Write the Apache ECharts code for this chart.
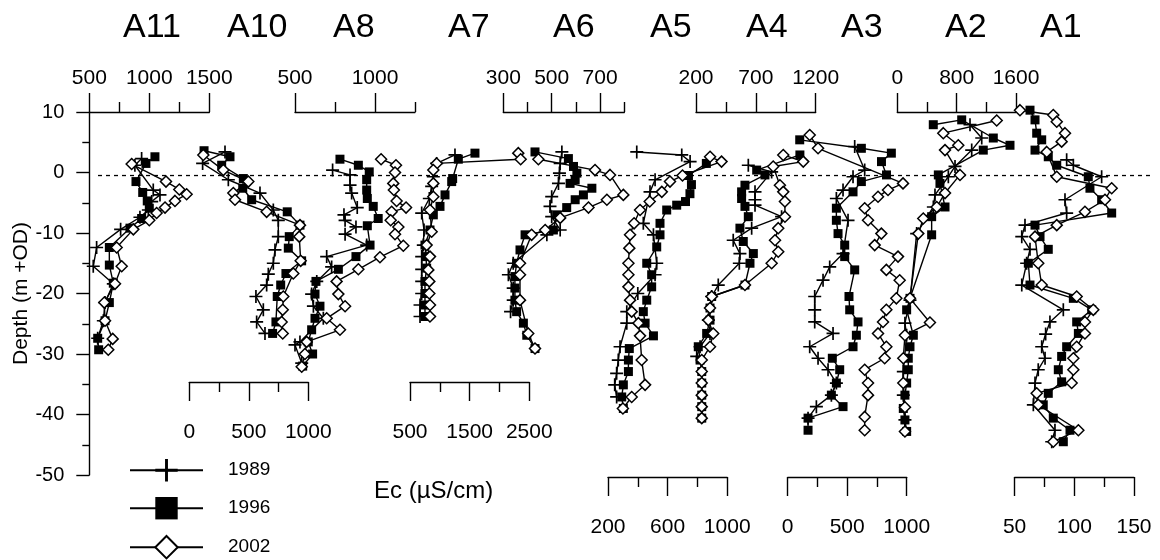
<!DOCTYPE html>
<html><head><meta charset="utf-8">
<script src="https://cdn.jsdelivr.net/npm/echarts@6/dist/echarts.min.js"></script>
<style>html,body{margin:0;padding:0;background:#fff}#c{width:1160px;height:560px}</style>
</head><body><div id="c"></div>
<script>
// ---------------- DATA ----------------
const YEARS = ['1989', '1996', '2002'];
const PANELS = ['A11', 'A10', 'A8', 'A7', 'A6', 'A5', 'A4', 'A3', 'A2', 'A1'];
const DEPTH_MIN = -50, DEPTH_MAX = 10, DEPTH_STEP = 10;
const REF_DEPTH = -0.5;
const Y_NAME = 'Depth (m +OD)';
const X_NAME = 'Ec (µS/cm)';

// axis ranges and tick labels for every profile
const AXIS_MIN = {A11: 500, A10: 0, A8: 500, A7: 500, A6: 300, A5: 200, A4: 200, A3: 0, A2: 0, A1: 50};
const AXIS_MAX = {A11: 1500, A10: 1000, A8: 1250, A7: 2500, A6: 800, A5: 1000, A4: 1200, A3: 1000, A2: 1600, A1: 150};
const MAJOR_TICKS = {
  A11: [500, 1000, 1500], A10: [0, 500, 1000], A8: [500, 1000], A7: [500, 1500, 2500],
  A6: [300, 500, 700], A5: [200, 600, 1000], A4: [200, 700, 1200], A3: [0, 500, 1000],
  A2: [0, 800, 1600], A1: [50, 100, 150]
};
const MINOR_TICKS = {
  A11: [750, 1250], A10: [250, 750], A8: [750, 1250], A7: [1000, 2000],
  A6: [400, 600, 800], A5: [400, 800], A4: [450, 950], A3: [250, 750],
  A2: [400, 1200], A1: [75, 125]
};

// [Ec, depth] pairs
const A11_1989 = [[936,2.3],[880,1.2],[1033,-2.9],[1089,-3.7],[1020,-4.8],[992,-6.2],[922,-7.4],[761,-9.4],[561,-12.4],[533,-15.5],[700,-18.4],[631,-21.5],[617,-24.5],[570,-27.4]];
const A11_1996 = [[1047,2.6],[972,1.5],[889,-1.5],[945,-3.3],[983,-4.7],[1000,-5.9],[936,-7.6],[839,-9.2],[667,-12.4],[667,-15.3],[700,-18.3],[667,-21.5],[631,-24.5],[570,-27.4],[578,-29.3]];
const A11_2002 = [[853,1.4],[1139,-1.5],[1250,-2.8],[1311,-3.6],[1214,-4.7],[1131,-5.8],[1061,-6.7],[1000,-7.9],[867,-9.4],[728,-12.4],[770,-15.5],[714,-18.4],[625,-21.5],[631,-24.5],[695,-27.5],[658,-29.3]];

const A10_1989 = [[300,3.4],[112,1.5],[328,-1.2],[594,-3.4],[706,-6.2],[748,-7.9],[748,-10.6],[720,-12.8],[706,-15.0],[664,-16.8],[650,-18.6],[560,-20.5],[622,-22.7],[566,-24.7],[636,-26.6]];
const A10_1996 = [[124,3.6],[342,2.6],[272,1.2],[454,-1.0],[449,-2.6],[524,-4.5],[823,-6.5],[930,-8.7],[840,-10.6],[832,-12.5],[944,-14.6],[812,-16.7],[768,-18.6],[739,-20.5],[728,-24.7],[700,-26.6]];
const A10_2002 = [[118,2.9],[286,0.4],[496,-1.5],[370,-3.4],[384,-4.5],[650,-6.5],[930,-8.7],[924,-10.6],[936,-14.6],[874,-16.7],[790,-20.5],[785,-22.7],[776,-24.7],[785,-26.6]];

const A8_1989 = [[735,0.4],[844,-0.4],[844,-2.1],[854,-3.4],[889,-5.8],[806,-7.0],[813,-7.9],[881,-9.0],[813,-10.2],[948,-12.0],[698,-13.9],[729,-15.6],[636,-18.0],[604,-20.1],[615,-22.1],[677,-24.1],[531,-28.0],[500,-28.5],[542,-31.5]];
const A8_1996 = [[781,2.2],[896,1.2],[964,0.1],[948,-1.2],[948,-2.9],[952,-4.3],[989,-5.6],[1020,-7.6],[952,-8.8],[969,-12.0],[881,-13.9],[771,-16.0],[631,-18.0],[625,-20.1],[656,-22.1],[625,-24.1],[604,-26.0],[583,-28.0],[610,-30.0],[548,-32.0]];
const A8_2002 = [[1038,2.2],[1131,1.2],[1125,0],[1114,-1.8],[1118,-2.9],[1135,-4.7],[1194,-5.8],[1104,-6.5],[1098,-7.9],[1146,-9.0],[1125,-10.2],[1177,-12.1],[1031,-14.0],[896,-16.0],[760,-18.0],[771,-20.1],[813,-22.1],[698,-24.1],[781,-26.0],[573,-28.0],[562,-30.0],[542,-32.1]];

const A7_1989 = [[1254,2.9],[947,1.5],[891,-0.7],[863,-2.3],[824,-4.3],[696,-6.7],[735,-9.5],[723,-12.0],[696,-13.9],[696,-16.0],[696,-18.0],[696,-20.0],[668,-21.9],[668,-23.8]];
const A7_1996 = [[1589,3.2],[1310,2.2],[1215,-1.0],[1199,-1.5],[1087,-3.7],[1003,-5.6],[891,-7.0],[835,-9.5],[751,-12.0],[768,-13.9],[779,-15.8],[751,-18.0],[751,-20.0],[751,-21.9],[751,-23.8]];
const A7_2002 = [[2315,3.2],[2355,2.2],[947,1.5],[891,0.4],[891,-1.8],[891,-4.0],[835,-6.2],[863,-9.8],[779,-12.0],[835,-13.9],[807,-16.1],[824,-18.0],[824,-20.0],[835,-21.9],[835,-23.8]];

const A6_1989 = [[542,3.4],[535,1.5],[532,-0.1],[528,-1.8],[500,-4.0],[493,-5.6],[500,-7.3],[535,-9.5],[480,-10.3],[341,-15.0],[321,-16.9],[341,-19.1],[341,-21.1],[330,-23.0]];
const A6_1996 = [[431,3.4],[569,2.3],[590,1.0],[604,-0.1],[597,-1.2],[576,-1.8],[666,-2.6],[631,-3.7],[597,-4.5],[562,-5.8],[521,-7.0],[507,-9.5],[390,-10.3],[369,-12.8],[355,-15.0],[348,-17.2],[348,-19.1],[348,-21.1],[355,-23.0],[383,-24.9],[397,-26.9],[431,-29.1]];
const A6_2002 = [[445,2.2],[679,0.4],[741,-0.4],[796,-3.7],[728,-4.5],[652,-5.8],[535,-7.5],[473,-9.5],[417,-10.3],[369,-15.0],[369,-16.9],[369,-21.1],[403,-26.6],[431,-29.1]];

const A5_1989 = [[393,3.4],[695,2.9],[751,1.8],[516,-1.2],[482,-3.2],[437,-8.4],[505,-10.3],[527,-15.0],[516,-16.9],[400,-20.0],[326,-23.0],[326,-24.9],[281,-28.8],[269,-31.0],[258,-33.2],[245,-35.1],[258,-37.1]];
const A5_1996 = [[860,1.5],[740,-0.5],[760,-2.0],[750,-3.5],[720,-4.8],[661,-5.4],[594,-6.2],[549,-8.4],[549,-10.3],[527,-12.3],[460,-15.0],[493,-16.9],[493,-18.9],[460,-21.1],[437,-23.0],[449,-24.9],[505,-27.0],[343,-29.1],[337,-31.0],[337,-32.9],[303,-35.1],[292,-37.1],[303,-39.0]];
const A5_2002 = [[885,2.6],[962,1.8],[700,-0.5],[616,-1.5],[561,-3.2],[480,-4.8],[415,-6.2],[375,-8.4],[348,-10.3],[343,-12.5],[337,-15.0],[337,-16.9],[337,-18.9],[348,-21.1],[359,-23.0],[404,-24.9],[415,-27.0],[426,-31.0],[449,-35.1],[359,-37.1],[300,-39.0]];

const A4_1989 = [[637,1.2],[832,0.1],[693,-3.2],[693,-4.5],[693,-5.4],[915,-7.3],[665,-9.2],[511,-11.2],[567,-13.4],[562,-15.0],[386,-18.6],[331,-20.5],[303,-24.4],[317,-26.6],[234,-28.8],[206,-30.4]];
const A4_1996 = [[1068,2.9],[707,0.4],[776,-0.4],[609,-2.1],[581,-3.2],[581,-4.3],[609,-5.6],[637,-7.3],[567,-9.2],[595,-11.4],[679,-13.4],[651,-15.0],[609,-18.6],[331,-20.5],[317,-22.4],[317,-24.4],[289,-26.6],[219,-28.8],[234,-31.0],[248,-32.9],[248,-34.8],[248,-36.8],[248,-38.7],[248,-40.6]];
const A4_2002 = [[929,2.9],[1096,1.8],[845,1.0],[901,-2.1],[929,-3.2],[943,-4.8],[943,-7.3],[887,-9.2],[860,-11.2],[887,-13.1],[832,-15.0],[609,-18.6],[331,-20.5],[317,-22.4],[303,-24.4],[344,-26.6],[317,-28.8],[248,-31.0],[248,-32.9],[248,-34.8],[248,-36.8],[248,-38.7],[248,-40.6]];

const A3_1989 = [[563,4.3],[647,0.4],[549,-0.7],[465,-2.9],[409,-4.3],[507,-7.9],[465,-13.4],[353,-15.6],[297,-17.8],[227,-20.5],[227,-22.7],[227,-24.7],[381,-26.6],[185,-28.8],[255,-30.7],[339,-32.6],[409,-34.8],[367,-36.8],[241,-38.7],[171,-40.6]];
const A3_1996 = [[101,5.4],[619,4.0],[871,3.2],[788,1.8],[830,-0.4],[619,-1.5],[549,-3.2],[409,-5.9],[409,-7.9],[423,-10.1],[479,-12.0],[479,-13.9],[563,-16.1],[515,-20.5],[521,-22.7],[591,-24.7],[577,-26.9],[549,-28.8],[375,-30.7],[437,-32.6],[409,-34.8],[367,-36.8],[465,-38.7],[171,-40.6],[171,-42.6]];
const A3_2002 = [[185,6.2],[255,4.0],[969,-1.8],[843,-2.9],[759,-4.0],[647,-5.9],[675,-7.9],[787,-10.1],[731,-12.0],[927,-13.9],[829,-16.1],[941,-17.8],[913,-20.8],[829,-22.7],[801,-24.7],[759,-26.6],[829,-28.8],[815,-30.7],[647,-32.6],[675,-34.8],[675,-36.8],[647,-40.4],[647,-42.6]];

const A2_1989 = [[980,7.9],[1138,5.7],[1003,3.7],[778,1.0],[688,-0.7],[508,-3.7],[486,-5.7],[261,-10.1],[171,-21.1],[103,-24.9],[126,-26.9],[81,-32.9],[81,-36.8],[103,-40.9]];
const A2_1996 = [[485,7.9],[868,8.7],[1294,5.7],[1519,4.5],[1159,3.7],[553,-0.4],[575,-1.8],[643,-5.7],[463,-7.3],[463,-10.3],[171,-20.8],[126,-22.7],[216,-26.9],[171,-28.8],[148,-30.7],[148,-32.6],[126,-34.8],[103,-36.8],[81,-39.0],[103,-40.9],[126,-42.8]];
const A2_2002 = [[1340,8.6],[620,6.5],[822,4.5],[643,3.7],[845,-0.4],[643,-3.4],[531,-5.7],[350,-7.6],[283,-10.1],[171,-20.8],[440,-24.8],[103,-26.9],[81,-30.7],[81,-34.8],[103,-38.8],[103,-42.8]];

const A1_1989 = [[93.6,2.1],[99.2,1.2],[122.9,-0.7],[92.2,-4.5],[93.6,-6.7],[58.7,-8.7],[56.0,-10.6],[62.9,-12.7],[60.1,-15.0],[56.0,-18.6],[90.8,-22.7],[79.6,-24.7],[76.0,-26.7],[72.7,-28.8],[75.5,-30.7],[69.8,-32.6],[67.1,-34.8],[65.7,-38.4],[83.8,-42.6],[81.1,-44.5]];
const A1_1996 = [[62.9,10.3],[67.1,8.7],[68.5,6.5],[72.7,5.4],[67.1,3.7],[78.2,2.6],[85.3,1.2],[111.7,-0.7],[113.1,-2.6],[122.9,-4.5],[131.3,-6.7],[67.1,-8.7],[71.3,-10.6],[78.2,-12.7],[61.5,-15.0],[62.9,-18.6],[99.2,-20.8],[114.6,-22.7],[102.0,-24.7],[103.4,-26.6],[93.6,-28.8],[89.4,-30.4],[86.6,-32.6],[89.4,-34.6],[78.2,-36.5],[74.0,-38.4],[82.4,-40.6],[96.4,-42.6],[90.8,-44.5]];
const A1_2002 = [[54.5,10.3],[82.4,9.5],[85.3,8.4],[92.2,6.5],[89.4,5.1],[76.9,3.4],[85.3,-0.7],[131.3,-2.6],[125.7,-4.5],[108.9,-6.5],[85.3,-8.7],[67.1,-10.6],[69.8,-15.0],[72.7,-18.6],[102.0,-20.5],[115.9,-22.7],[108.9,-24.7],[108.9,-26.6],[102.0,-28.8],[99.2,-30.7],[99.2,-32.6],[97.8,-34.8],[68.5,-36.5],[69.8,-38.4],[103.4,-42.6],[82.4,-44.5]];

// profile number annotations: [Ec, depth, text]
const NOTES = {
  A11: [[1014,-3.4,'1'],[1322,-7.2,'2']],
  A10: [],
  A8: [[1047,-4.0,'2']],
  A7: [[2143,-2.4,'3'],[2143,-4.9,'3']],
  A6: [[786,-2.4,'2'],[711,-11.2,'1']],
  A5: [[839,-4.2,'2'],[570,-24.4,'2']],
  A4: [[1058,-4.5,'2'],[1033,-15.1,'2'],[717,-18.9,'1'],[417,-29.5,'1']],
  A3: [[655,-19.9,'2'],[681,-30.3,'1']],
  A2: [[1408,1.6,'3'],[709,-10.8,'3'],[466,-31.5,'3']],
  A1: [[105.6,6.7,'2'],[140,0.25,'1'],[144.2,-5.7,'2'],[105.6,-13.8,'3'],[91.4,-26.4,'2'],[112.3,-37.9,'3'],[112.3,-41.7,'3'],[112.3,-45.0,'3']]
};

const SERIES_DATA = {
  A11: [A11_1989, A11_1996, A11_2002], A10: [A10_1989, A10_1996, A10_2002],
  A8: [A8_1989, A8_1996, A8_2002], A7: [A7_1989, A7_1996, A7_2002],
  A6: [A6_1989, A6_1996, A6_2002], A5: [A5_1989, A5_1996, A5_2002],
  A4: [A4_1989, A4_1996, A4_2002], A3: [A3_1989, A3_1996, A3_2002],
  A2: [A2_1989, A2_1996, A2_2002], A1: [A1_1989, A1_1996, A1_2002]
};

// ---------------- LAYOUT / STYLE ----------------
const FONT = "'Liberation Sans', Arial, sans-serif";
const GRID_TOP = 112, GRID_H = 363;
const LAYOUT = {
  A11: {left: 89.3, width: 120, pos: 'top', offset: 0, tx: 155},
  A10: {left: 189.3, width: 119, pos: 'bottom', offset: -93, tx: 259},
  A8: {left: 295, width: 120, pos: 'top', offset: 0, tx: 365},
  A7: {left: 410, width: 119.3, pos: 'bottom', offset: -93, tx: 480},
  A6: {left: 503.3, width: 121, pos: 'top', offset: 0, tx: 585},
  A5: {left: 608, width: 119.2, pos: 'bottom', offset: 2, tx: 682},
  A4: {left: 696, width: 119.7, pos: 'top', offset: 0, tx: 778},
  A3: {left: 787.7, width: 119, pos: 'bottom', offset: 2, tx: 873},
  A2: {left: 897.3, width: 118.7, pos: 'top', offset: 0, tx: 977},
  A1: {left: 1014.6, width: 119.4, pos: 'bottom', offset: 2, tx: 1072}
};
const LEGEND_TOPS = [459, 497, 535];
const CROSS = 'path://M-1,-0.13L-0.13,-0.13L-0.13,-1L0.13,-1L0.13,-0.13L1,-0.13L1,0.13L0.13,0.13L0.13,1L-0.13,1L-0.13,0.13L-1,0.13Z';
const SYM = [
  {symbol: CROSS, symbolSize: 13, itemStyle: {color: '#000'}},
  {symbol: 'rect', symbolSize: 9, itemStyle: {color: '#000'}},
  {symbol: 'diamond', symbolSize: 11, itemStyle: {color: '#fff', borderColor: '#000', borderWidth: 1.5}}
];
const fmt = v => String(v);

const grids = [], xAxes = [], yAxes = [], series = [], graphics = [];
PANELS.forEach((p, i) => {
  const L = LAYOUT[p];
  grids.push({left: L.left, width: L.width, top: GRID_TOP, height: GRID_H, containLabel: false, outerBoundsMode: 'none'});
  const common = {gridIndex: i, type: 'value', min: AXIS_MIN[p], max: AXIS_MAX[p], position: L.pos, offset: L.offset, splitLine: {show: false}};
  xAxes.push(Object.assign({}, common, {
    axisLine: {show: true, onZero: false, lineStyle: {color: '#000', width: 1.4}},
    axisTick: {show: true, customValues: MAJOR_TICKS[p], length: 19, lineStyle: {color: '#000', width: 1.4}},
    axisLabel: {show: true, customValues: MAJOR_TICKS[p], formatter: fmt, margin: L.pos === 'top' ? 23 : 40, fontSize: 21, color: '#000', fontFamily: FONT}
  }));
  xAxes.push(Object.assign({}, common, {
    axisLine: {show: false, onZero: false},
    axisTick: {show: true, customValues: MINOR_TICKS[p], length: 10, lineStyle: {color: '#000', width: 1.4}},
    axisLabel: {show: false}
  }));
  if (i === 0) {
    yAxes.push({
      gridIndex: 0, type: 'value', min: DEPTH_MIN, max: DEPTH_MAX, interval: DEPTH_STEP, position: 'left',
      axisLine: {show: true, onZero: false, lineStyle: {color: '#000', width: 1.4}},
      axisTick: {show: true, length: 13, lineStyle: {color: '#000', width: 1.4}},
      minorTick: {show: true, splitNumber: 2, length: 7, lineStyle: {color: '#000', width: 1.4}},
      axisLabel: {fontSize: 20, margin: 25, color: '#000', fontFamily: FONT, formatter: fmt},
      splitLine: {show: false},
      name: Y_NAME, nameLocation: 'middle', nameRotate: 90, nameGap: 58,
      nameTextStyle: {fontSize: 21, color: '#000', fontFamily: FONT}
    });
  } else {
    yAxes.push({gridIndex: i, type: 'value', min: DEPTH_MIN, max: DEPTH_MAX, show: false});
  }
  SERIES_DATA[p].forEach((d, k) => {
    series.push(Object.assign({
      type: 'line', name: YEARS[k], xAxisIndex: 2 * i, yAxisIndex: i, data: d,
      showAllSymbol: true, clip: false, animation: false, silent: true,
      lineStyle: {color: '#000', width: 1.4}, z: 3 + k
    }, SYM[k]));
  });
  if (NOTES[p].length) {
    series.push({
      type: 'scatter', name: 'note' + p, xAxisIndex: 2 * i, yAxisIndex: i, data: NOTES[p],
      symbolSize: 1, itemStyle: {opacity: 0}, clip: false, animation: false, silent: true, z: 10,
      label: {show: true, position: 'inside', formatter: q => q.value[2], fontSize: 18, color: '#222', fontFamily: FONT}
    });
  }
  graphics.push({type: 'text', left: L.tx - 32, top: 11, style: {text: p, fill: '#000', font: '34px ' + FONT, width: 64, align: 'center'}});
});

// reference (dotted) level across all profiles
grids.push({left: 98, width: 1055, top: GRID_TOP, height: GRID_H, containLabel: false, outerBoundsMode: 'none'});
xAxes.push({gridIndex: 10, type: 'value', min: 0, max: 1, show: false});
yAxes.push({gridIndex: 10, type: 'value', min: DEPTH_MIN, max: DEPTH_MAX, show: false});
series.push({type: 'line', name: 'ref', xAxisIndex: 20, yAxisIndex: 10, data: [[0, REF_DEPTH], [1, REF_DEPTH]],
  symbol: 'none', silent: true, animation: false, z: 1, lineStyle: {color: '#000', width: 1.3, type: [4, 4]}});

graphics.push({type: 'text', left: 374, top: 479, style: {text: X_NAME, font: '24px ' + FONT, fill: '#000'}});

const legends = YEARS.map((y, k) => ({
  data: [y], orient: 'vertical', left: 129, top: LEGEND_TOPS[k], padding: 0,
  itemWidth: 73, itemHeight: 28, selectedMode: false,
  textStyle: {fontSize: 19, color: '#000', fontFamily: FONT, padding: [0, 0, 0, 20]}
}));

const chart = echarts.init(document.getElementById('c'), null, {renderer: 'canvas'});
chart.setOption({
  backgroundColor: '#fff',
  animation: false,
  textStyle: {fontFamily: FONT},
  grid: grids, xAxis: xAxes, yAxis: yAxes, series: series,
  legend: legends,
  graphic: graphics
});
</script>
</body></html>
